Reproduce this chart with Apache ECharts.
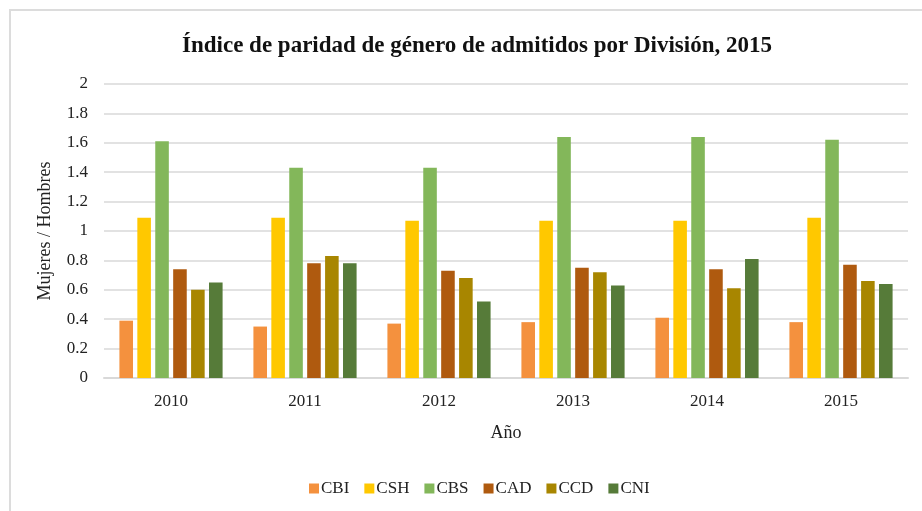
<!DOCTYPE html>
<html>
<head>
<meta charset="utf-8">
<script src="https://cdn.jsdelivr.net/npm/echarts@6/dist/echarts.min.js"></script>
<style>
  html, body { margin: 0; padding: 0; background: #fff; }
  #frame { position: absolute; left: 9px; top: 9px; width: 940px; height: 540px;
           border-left: 2px solid #dcdcdc; border-top: 2px solid #dcdcdc; }
  #chart { position: absolute; left: 0; top: 0; width: 922px; height: 511px; }
</style>
</head>
<body>
<div id="frame"></div>
<div id="chart"></div>
<script>
// años y divisiones
const YEARS = ["2010", "2011", "2012", "2013", "2014", "2015"];
const DIVISIONS = ["CBI", "CSH", "CBS", "CAD", "CCD", "CNI"];
const COLORS = ["#F4913E", "#FFC800", "#83B75A", "#AF5A0F", "#A88600", "#567B39"];

// índice mujeres / hombres
const CBI = [0.39, 0.35, 0.37, 0.38, 0.41, 0.38];
const CSH = [1.09, 1.09, 1.07, 1.07, 1.07, 1.09];
const CBS = [1.61, 1.43, 1.43, 1.64, 1.64, 1.62];
const CAD = [0.74, 0.78, 0.73, 0.75, 0.74, 0.77];
const CCD = [0.60, 0.83, 0.68, 0.72, 0.61, 0.66];
const CNI = [0.65, 0.78, 0.52, 0.63, 0.81, 0.64];
const VALUES = [CBI, CSH, CBS, CAD, CCD, CNI];

const FONT = "Liberation Serif";
const chart = echarts.init(document.getElementById("chart"));

chart.setOption({
  backgroundColor: "transparent",
  animation: false,
  textStyle: { fontFamily: FONT },
  title: {
    text: "Índice de paridad de género de admitidos por División, 2015",
    left: 177,
    top: 30,
    textStyle: { fontFamily: FONT, fontSize: 23, fontWeight: "bold", color: "#111" },
  },
  legend: {
    bottom: 9,
    left: 304,
    itemWidth: 10,
    itemHeight: 10,
    itemGap: 15,
    icon: "rect",
    textStyle: { fontFamily: FONT, fontSize: 17, color: "#222", padding: [0, 0, 0, -3] },
    data: DIVISIONS,
  },
  grid: { left: 104, right: 14, top: 84, bottom: 133 },
  xAxis: {
    type: "category",
    data: YEARS,
    name: "Año",
    nameLocation: "middle",
    nameGap: 46,
    nameTextStyle: { fontFamily: FONT, fontSize: 18, color: "#222" },
    axisLine: { lineStyle: { color: "#d9d9d9", width: 2 } },
    axisTick: { show: false },
    axisLabel: { margin: 15, fontFamily: FONT, fontSize: 17, color: "#222" },
  },
  yAxis: {
    type: "value",
    min: 0,
    max: 2,
    interval: 0.2,
    name: "Mujeres / Hombres",
    nameLocation: "middle",
    nameGap: 50,
    nameTextStyle: { fontFamily: FONT, fontSize: 18, color: "#222" },
    axisLine: { show: false },
    axisTick: { show: false },
    axisLabel: { margin: 16, fontFamily: FONT, fontSize: 17, color: "#222" },
    splitLine: { lineStyle: { color: "#d9d9d9", width: 1.5 } },
  },
  series: DIVISIONS.map((name, i) => ({
    name: name,
    type: "bar",
    data: VALUES[i],
    barGap: "32%",
    barCategoryGap: "23%",
    itemStyle: { color: COLORS[i] },
  })),
});
</script>
</body>
</html>
